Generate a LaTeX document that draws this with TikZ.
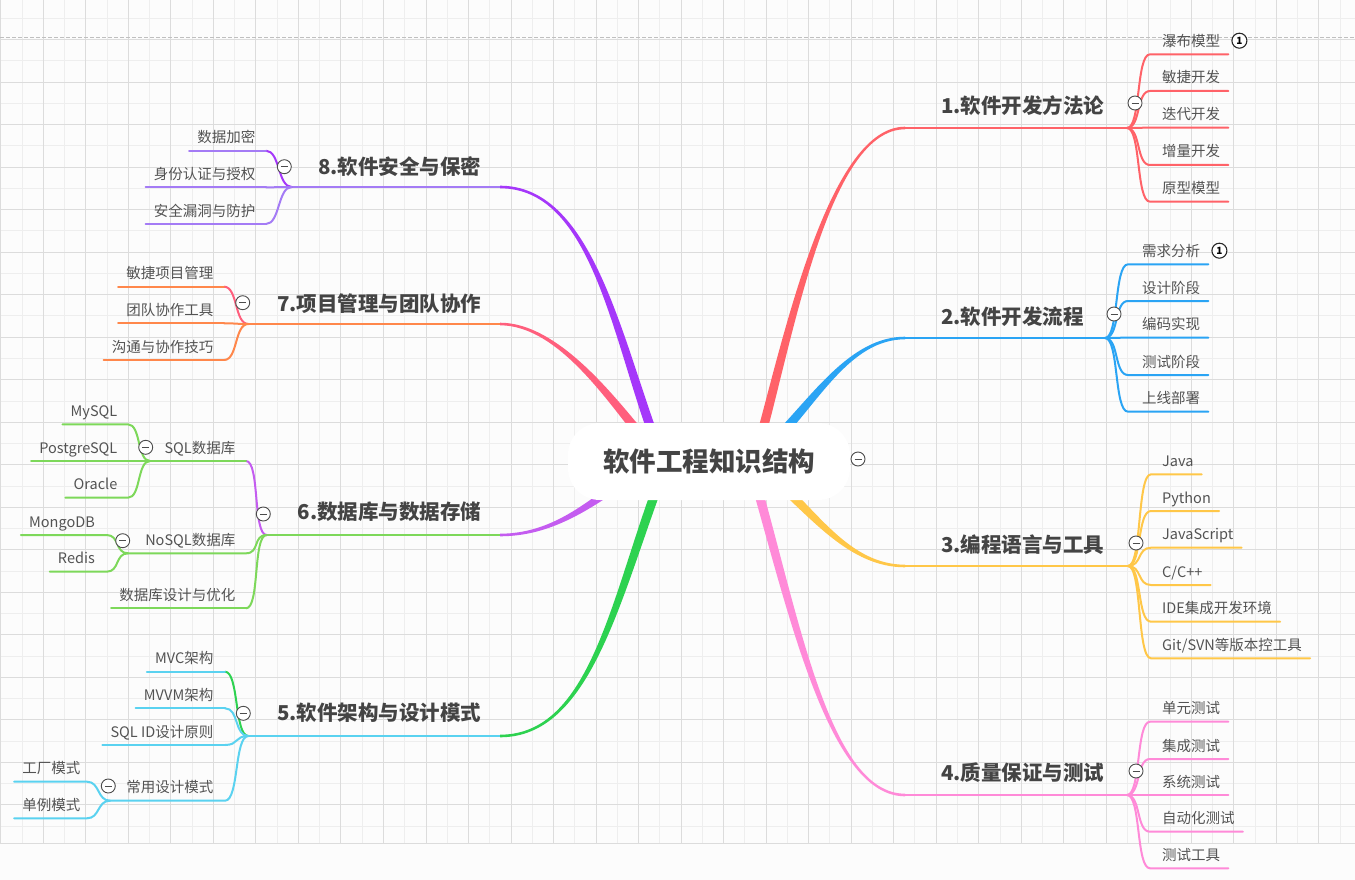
\documentclass[tikz,border=0pt]{standalone}
\usepackage{fontspec}
\setmainfont{Noto Sans CJK SC}
\usetikzlibrary{calc}
\definecolor{paper}{HTML}{FCFCFC}
\definecolor{gridlo}{HTML}{EEEEEE}
\definecolor{gridhi}{HTML}{DCDCDC}
\definecolor{ink}{HTML}{444444}
\definecolor{c1}{HTML}{FF6268}
\definecolor{c2}{HTML}{2AA4F4}
\definecolor{c3}{HTML}{FFC748}
\definecolor{c4}{HTML}{FF8AD8}
\definecolor{c5}{HTML}{2DD250}
\definecolor{c5b}{HTML}{5AD2F0}
\definecolor{c6}{HTML}{C45CF0}
\definecolor{c6b}{HTML}{7DD85A}
\definecolor{c7}{HTML}{FF5F7D}
\definecolor{c7b}{HTML}{FF874B}
\definecolor{c8}{HTML}{A537FA}
\definecolor{c8b}{HTML}{A47BF5}
% tapered branch: start, control, control, end, colour
\newcommand{\limb}[5]{%
  \fill[#5] ($(#1)!4.6pt!90:(#2)$) .. controls ($(#2)!4.6pt!-90:(#1)$) and ($(#3)!1.3pt!90:(#4)$) .. ($(#4)!1.3pt!-90:(#3)$)
    -- ($(#4)!1.3pt!90:(#3)$) .. controls ($(#3)!1.3pt!-90:(#4)$) and ($(#2)!4.6pt!90:(#1)$) .. ($(#1)!4.6pt!-90:(#2)$) -- cycle;}

\begin{document}
\begin{tikzpicture}[x=1pt,y=-1pt,
  leaf/.style={inner sep=0pt,text=ink!92,font=\fontsize{14.5}{17}\selectfont},
  head/.style={inner sep=0pt,text=ink,font=\fontsize{20.5}{24}\selectfont\bfseries},
  root/.style={fill=white,rounded corners=32pt,minimum width=282pt,minimum height=77pt,text=ink,font=\fontsize{26.5}{30}\selectfont\bfseries},
  twig/.style={line width=2pt,line cap=round},
  stem/.style={line width=2.4pt},
  fold/.style={circle,draw=black!70,fill=white,line width=0.9pt,minimum size=14pt,inner sep=0pt,
    path picture={\draw[black!70,line width=0.9pt] ([xshift=-3.5pt]path picture bounding box.center)--([xshift=3.5pt]path picture bounding box.center);}},
  badge/.style={circle,draw=black!85,fill=white,line width=1.1pt,minimum size=15pt,inner sep=0pt,font=\fontsize{10}{10}\selectfont\bfseries}]
  \useasboundingbox (0,0) rectangle (1355,880);
  \fill[paper] (0,0) rectangle (1355,880);
  \foreach \k in {0,...,31} \draw[gridlo,line width=0.8pt] (21.96+\k*42.52,0) -- (21.96+\k*42.52,843);
  \foreach \k in {0,...,19} \draw[gridlo,line width=0.8pt] (0,18.24+\k*42.52) -- (1355,18.24+\k*42.52);
  \foreach \k in {0,...,31} \draw[gridhi,line width=0.8pt] (0.7+\k*42.52,0) -- (0.7+\k*42.52,843);
  \foreach \k in {0,...,18} \draw[gridhi,line width=0.8pt] (0,39.5+\k*42.52) -- (1355,39.5+\k*42.52);
  \draw[gridhi,line width=0.8pt] (0,843) -- (1355,843);
  \draw[black!25,line width=0.8pt,dash pattern=on 4pt off 2pt] (0,37.3) -- (1355,37.3);
  % main branches
  \foreach \n/\ax/\ay/\bx/\by/\cx/\cy/\dx/\dy/\col in {
      1/760/440/790/330/830/128/905/128/c1,
      2/775/440/815/400/850/338/905/338/c2,
      3/775/480/815/515/850/566/905/566/c3,
      4/755/480/795/620/830/795/905/795/c4,
      5/660/480/615/600/590/736/500/736/c5,
      6/640/470/600/495/560/535/500/535/c6,
      7/645/440/615/405/560/324/500/324/c7,
      8/655/440/615/330/590/187/500/187/c8} {
    \coordinate (p\n) at (\ax,\ay);
    \coordinate (q\n) at (\bx,\by);
    \coordinate (r\n) at (\cx,\cy);
    \coordinate (b\n) at (\dx,\dy);
    \limb{p\n}{q\n}{r\n}{b\n}{\col}
  }
  \node[root] (root) at (709,461.5) {软件工程知识结构};
  \node[fold] (f0) at (858,459) {};
  \foreach \n/\jx/\jy/\col in {1/1127/128/c1,2/1105/338/c2,3/1128/566/c3,4/1127/795/c4,
      5/248.3/736/c5b,6/266.7/535/c6b,7/248.3/324/c7b,8/291.7/187/c8b} {
    \coordinate (j\n) at (\jx,\jy);
    \draw[stem,\col] (b\n) -- (j\n);
  }
  % right side
  \foreach \Kids/\n/\sx/\tx/\col in {
      {54.3/瀑布模型,91/敏捷开发,127.7/迭代开发,165/增量开发,201.7/原型模型}/1/1150/1162/c1,
      {264.3/需求分析,301/设计阶段,337.7/编码实现,375/测试阶段,411.7/上线部署}/2/1128/1142/c2,
      {474.3/Java,511/Python,547.7/JavaScript,585/C\slash C++,621.7/IDE集成开发环境,658.3/Git\slash SVN等版本控工具}/3/1151/1162/c3,
      {721.7/单元测试,759/集成测试,795/系统测试,831.7/自动化测试,868.3/测试工具}/4/1150/1162/c4} {
    \foreach \y/\lbl [count=\i] in \Kids {
      \coordinate (s\n\i) at (\sx,\y);
      \node[leaf,anchor=base west] (t\n\i) at (\tx,\y-8) {\lbl};
      \draw[twig,\col] (j\n) .. controls +(14,0) and +(-14,0) .. (s\n\i) -- ($(t\n\i.east|-s\n\i)+(8,0)$);
    }
  }
  \node[badge] (k1) at ($(t11.base east)+(19,-5.6)$) {1};
  \node[badge] (k2) at ($(t21.base east)+(19,-5.6)$) {1};
  % left side
  \foreach \Kids/\n/\sx/\tx/\col in {
      {150.7/数据加密/c8,187.3/身份认证与授权/c8b,224/安全漏洞与防护/c8b}/8/266/255.5/c8b,
      {286.7/敏捷项目管理/c7,323.3/团队协作工具/c7b,360/沟通与协作技巧/c7b}/7/224/213.5/c7b,
      {671.7/MVC架构/c5,708.3/MVVM架构/c5b,745/SQL ID设计原则/c5b}/5/225/213.5/c5b,
      {608.3/数据库设计与优化/c6b}/6/246/235.5/c6b} {
    \foreach \y/\lbl/\cc [count=\i] in \Kids {
      \coordinate (s\n\i) at (\sx,\y);
      \node[leaf,anchor=base east] (t\n\i) at (\tx,\y-8) {\lbl};
      \draw[twig,\cc] (j\n) .. controls +(-14,0) and +(14,0) .. (s\n\i);
      \draw[twig,\col] (s\n\i) -- ($(t\n\i.west|-s\n\i)+(-8,0)$);
    }
  }
  % sub topics with children
  \coordinate (sq) at (246,461);     \coordinate (jq) at (150,461);
  \coordinate (sn) at (246,553.3);   \coordinate (jn) at (128,553.3);
  \coordinate (sm) at (225,800.7);   \coordinate (jm) at (110,800.7);
  \node[leaf,anchor=base east] (tq) at (235.5,453) {SQL数据库};
  \node[leaf,anchor=base east] (tn) at (235.5,545.3) {NoSQL数据库};
  \node[leaf,anchor=base east] (tm) at (213.5,792.7) {常用设计模式};
  \draw[twig,c6] (j6) .. controls +(-14,0) and +(14,0) .. (sq);
  \draw[twig,c6b] (sq) -- (jq);
  \draw[twig,c6b] (j6) .. controls +(-14,0) and +(14,0) .. (sn) -- (jn);
  \draw[twig,c5b] (j5) .. controls +(-14,0) and +(14,0) .. (sm) -- (jm);
  \foreach \Kids/\p/\sx/\tx/\col in {
      {424.3/MySQL,461/PostgreSQL,497.7/Oracle}/q/128/117.5/c6b,
      {535/MongoDB,571.7/Redis}/n/106.7/95/c6b,
      {781.7/工厂模式,818.3/单例模式}/m/87/80.5/c5b} {
    \foreach \y/\lbl [count=\i] in \Kids {
      \coordinate (s\p\i) at (\sx,\y);
      \node[leaf,anchor=base east] (t\p\i) at (\tx,\y-8) {\lbl};
      \draw[twig,\col] (j\p) .. controls +(-13,0) and +(13,0) .. (s\p\i) -- ($(t\p\i.west|-s\p\i)+(-8,0)$);
    }
  }
  % topic titles
  \foreach \n/\x/\y/\side/\lbl/\fx/\fy in {
      1/941/113.8/west/1.软件开发方法论/1135/103,
      2/941/324.8/west/2.软件开发流程/1114/314,
      3/941/552.8/west/3.编程语言与工具/1136/543,
      4/941/780.8/west/4.质量保证与测试/1136/771,
      5/481.5/720.8/east/5.软件架构与设计模式/243.3/713.3,
      6/481.5/519.8/east/6.数据库与数据存储/263.3/514,
      7/481.5/311.1/east/7.项目管理与团队协作/242.7/302.7,
      8/481.5/174.5/east/8.软件安全与保密/284.3/166.7} {
    \node[head,anchor=base \side] (h\n) at (\x,\y) {\lbl};
    \node[fold] (f\n) at (\fx,\fy) {};
  }
  \node[fold] (fq) at (145.7,447.3) {};
  \node[fold] (fn) at (122.7,540.7) {};
  \node[fold] (fm) at (108.3,786) {};
\end{tikzpicture}
\end{document}
